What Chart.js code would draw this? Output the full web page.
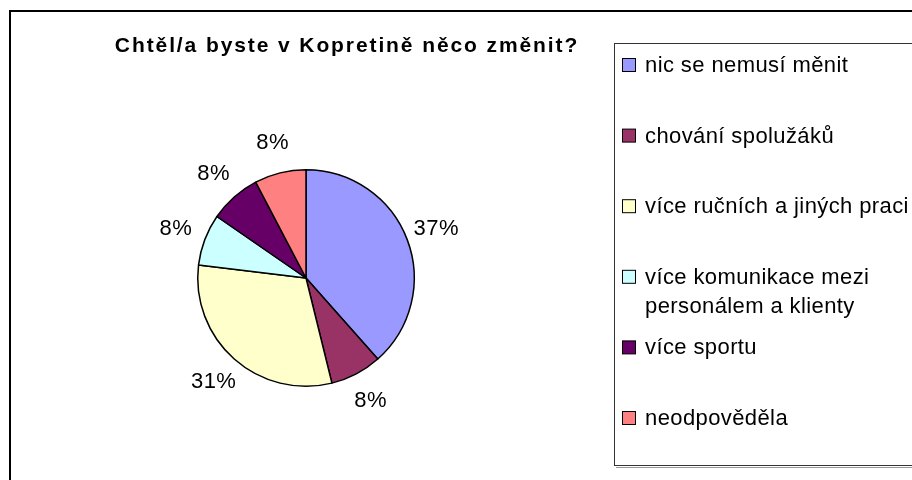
<!DOCTYPE html>
<html>
<head>
<meta charset="utf-8">
<script src="https://cdn.jsdelivr.net/npm/chart.js@4.4.0/dist/chart.umd.min.js"></script>
<style>
  body { margin: 0; background: #fff; }
  canvas { display: block; }
</style>
</head>
<body>
<canvas id="myChart" width="912" height="480"></canvas>
<script>
var chartTitle = 'Chtěl/a byste v Kopretině něco změnit?';
var categories = [
  'nic se nemusí měnit',
  'chování spolužáků',
  'více ručních a jiných praci',
  ['více komunikace mezi', 'personálem a klienty'],
  'více sportu',
  'neodpověděla'
];
// answers per category (slice sizes), and the percent text printed next to each slice
var answers = [5, 1, 4, 1, 1, 1];
var percentLabels = ['37%', '8%', '31%', '8%', '8%', '8%'];
var sliceColors = ['#9999FF', '#993366', '#FFFFCC', '#CCFFFF', '#660066', '#FF8080'];

var fontFamily = '"Liberation Sans", Arial, sans-serif';

var excelLook = {
  id: 'excelLook',
  beforeDraw: function(chart) {
    var ctx = chart.ctx;
    ctx.save();
    ctx.fillStyle = '#fff';
    ctx.fillRect(0, 0, chart.width, chart.height);

    // outer chart frame (runs off the right and bottom edge)
    ctx.strokeStyle = '#000';
    ctx.lineWidth = 2;
    ctx.strokeRect(10, 11, 1000, 600);

    // title
    ctx.fillStyle = '#000';
    ctx.font = 'bold 21px ' + fontFamily;
    ctx.letterSpacing = '1.9px';
    ctx.textAlign = 'center';
    ctx.textBaseline = 'alphabetic';
    ctx.fillText(chartTitle, 347, 52);

    // legend box with a small shadow
    ctx.letterSpacing = '0px';
    ctx.strokeStyle = '#999';
    ctx.lineWidth = 1;
    ctx.beginPath();
    ctx.moveTo(616, 467.5);
    ctx.lineTo(912, 467.5);
    ctx.stroke();
    ctx.strokeStyle = '#333';
    ctx.strokeRect(614.5, 43.5, 400, 422);

    ctx.font = '22px ' + fontFamily;
    ctx.letterSpacing = '0.4px';
    ctx.textAlign = 'left';
    var ds = chart.data.datasets[0];
    chart.data.labels.forEach(function(label, i) {
      var baseY = 72 + i * 70.6;
      ctx.fillStyle = ds.backgroundColor[i];
      ctx.fillRect(622.5, baseY - 13.5, 13, 13);
      ctx.strokeStyle = '#000';
      ctx.strokeRect(622.5, baseY - 13.5, 13, 13);
      var lines = Array.isArray(label) ? label : [label];
      ctx.fillStyle = '#000';
      lines.forEach(function(line, j) {
        ctx.fillText(line, 645, baseY + j * 29);
      });
    });
    ctx.restore();
  },
  afterDatasetsDraw: function(chart) {
    var ctx = chart.ctx;
    var meta = chart.getDatasetMeta(0);
    ctx.save();
    ctx.fillStyle = '#000';
    ctx.font = '22px ' + fontFamily;
    ctx.letterSpacing = '0.5px';
    ctx.textAlign = 'center';
    ctx.textBaseline = 'middle';
    meta.data.forEach(function(arc, i) {
      var p = arc.getProps(['x', 'y', 'startAngle', 'endAngle', 'outerRadius'], true);
      var mid = (p.startAngle + p.endAngle) / 2;
      var dist = p.outerRadius + 31;
      ctx.fillText(percentLabels[i], p.x + Math.cos(mid) * dist, p.y + Math.sin(mid) * dist);
    });
    ctx.restore();
  }
};

var ctx = document.getElementById('myChart').getContext('2d');
var pieChart = new Chart(ctx, {
  type: 'pie',
  data: {
    labels: categories,
    datasets: [{
      data: answers,
      backgroundColor: sliceColors,
      borderColor: '#000',
      borderWidth: 1.5
    }]
  },
  options: {
    responsive: false,
    animation: false,
    layout: {
      padding: { left: 197, top: 169, right: 497, bottom: 93 }
    },
    plugins: {
      legend: { display: false },
      title: { display: false },
      tooltip: { enabled: false }
    }
  },
  plugins: [excelLook]
});
</script>
</body>
</html>
